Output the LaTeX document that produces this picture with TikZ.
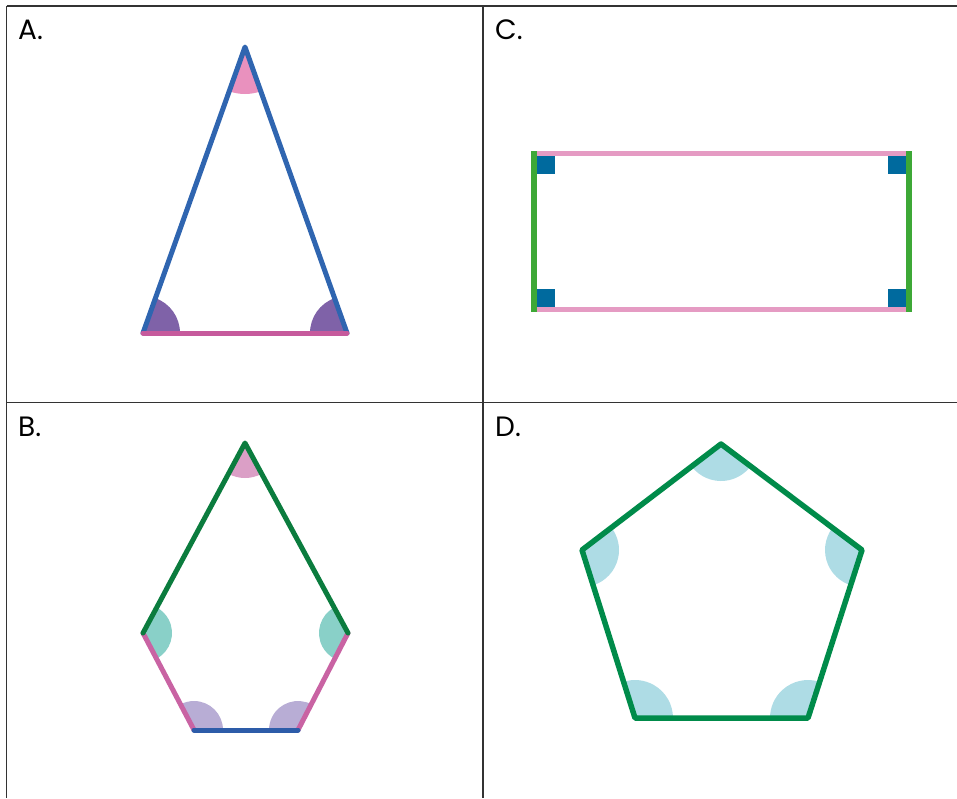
\documentclass[tikz,border=0pt]{standalone}
\usepackage{fontspec}
\setmainfont{Poppins}
\usepackage{tikz}
\usetikzlibrary{angles}
\definecolor{marcogris}{RGB}{51,51,51}
\definecolor{azulA}{RGB}{47,101,176}
\definecolor{rosaA}{RGB}{198,90,156}
\definecolor{rosaclaro}{RGB}{233,145,190}
\definecolor{moradoA}{RGB}{127,98,168}
\definecolor{rosaC}{RGB}{229,155,195}
\definecolor{verdeC}{RGB}{61,168,54}
\definecolor{azulC}{RGB}{0,106,158}
\definecolor{verdeB}{RGB}{11,124,62}
\definecolor{rosaB}{RGB}{201,99,163}
\definecolor{azulB}{RGB}{45,92,169}
\definecolor{rosaBclaro}{RGB}{219,159,198}
\definecolor{turquesa}{RGB}{137,208,200}
\definecolor{lila}{RGB}{184,173,213}
\definecolor{verdeD}{RGB}{0,139,74}
\definecolor{celeste}{RGB}{174,220,229}

\begin{document}
\begin{tikzpicture}[x=1pt,y=-1pt,
  marco/.style={draw=marcogris,line width=1.3pt},
  lado/.style={line width=5pt,line cap=round,line join=round},
  ang/.style={draw=none,fill=#1},
  letra/.style={anchor=base west,inner sep=0pt,font=\fontsize{28}{30}\selectfont}]
\useasboundingbox (0,0) rectangle (957,798);
% Cuadricula de los cuatro paneles.
\draw[marco] (6.5,6) -- (957,6);
\draw[marco] (6.5,6) -- (6.5,798);
\draw[marco] (483,6) -- (483,798);
\draw[marco] (6.5,402.5) -- (957,402.5);
\node[letra] (lA) at (18,39) {A.};
\node[letra] (lB) at (18,436) {B.};
\node[letra] (lC) at (495,39) {C.};
\node[letra] (lD) at (495,436) {D.};
% A: triangulo isosceles
\coordinate (aP) at (245,47); \coordinate (aR) at (347,333); \coordinate (aL) at (143,333);
\pic[ang=rosaclaro,angle radius=47pt] {angle=aL--aP--aR};
\pic[ang=moradoA,angle radius=37pt] {angle=aP--aR--aL};
\pic[ang=moradoA,angle radius=37pt] {angle=aR--aL--aP};
\draw[lado,azulA] (aL) -- (aP) -- (aR);
\draw[lado,rosaA] (aL) -- (aR);
% C: rectangulo
\coordinate (c1) at (534,153.5); \coordinate (c2) at (909,153.5);
\coordinate (c3) at (909,309); \coordinate (c4) at (534,309);
\draw[line width=5pt,rosaC] (c1) -- (c2);
\draw[line width=5pt,rosaC] (c4) -- (c3);
\draw[line width=5.5pt,line cap=rect,verdeC] (c1) -- (c4);
\draw[line width=5.5pt,line cap=rect,verdeC] (c2) -- (c3);
\fill[azulC] (c1) ++(2.75,2.5) rectangle ++(18,18);
\fill[azulC] (c2) ++(-2.75,2.5) rectangle ++(-18,18);
\fill[azulC] (c3) ++(-2.75,-2.5) rectangle ++(-18,-18);
\fill[azulC] (c4) ++(2.75,-2.5) rectangle ++(18,-18);
% B: hexagono
\coordinate (b1) at (245,443); \coordinate (b2) at (348,633); \coordinate (b3) at (298,730);
\coordinate (b4) at (194,730); \coordinate (b5) at (143,633);
\pic[ang=rosaBclaro,angle radius=35pt] {angle=b5--b1--b2};
\pic[ang=turquesa,angle radius=29pt] {angle=b1--b2--b3};
\pic[ang=lila,angle radius=29pt] {angle=b2--b3--b4};
\pic[ang=lila,angle radius=29pt] {angle=b3--b4--b5};
\pic[ang=turquesa,angle radius=29pt] {angle=b4--b5--b1};
\draw[lado,rosaB] (b5) -- (b4);
\draw[lado,rosaB] (b2) -- (b3);
\draw[lado,azulB] (b4) -- (b3);
\draw[lado,verdeB] (b5) -- (b1) -- (b2);
% D: pentagono regular
\coordinate (d1) at (721,444); \coordinate (d2) at (862,550); \coordinate (d3) at (808,718);
\coordinate (d4) at (635,718); \coordinate (d5) at (582,550);
\pic[ang=celeste,angle radius=37pt] {angle=d5--d1--d2};
\pic[ang=celeste,angle radius=37pt] {angle=d1--d2--d3};
\pic[ang=celeste,angle radius=38pt] {angle=d2--d3--d4};
\pic[ang=celeste,angle radius=38pt] {angle=d3--d4--d5};
\pic[ang=celeste,angle radius=37pt] {angle=d4--d5--d1};
\draw[lado,line width=5.5pt,verdeD] (d1) -- (d2) -- (d3) -- (d4) -- (d5) -- cycle;
\end{tikzpicture}
\end{document}
